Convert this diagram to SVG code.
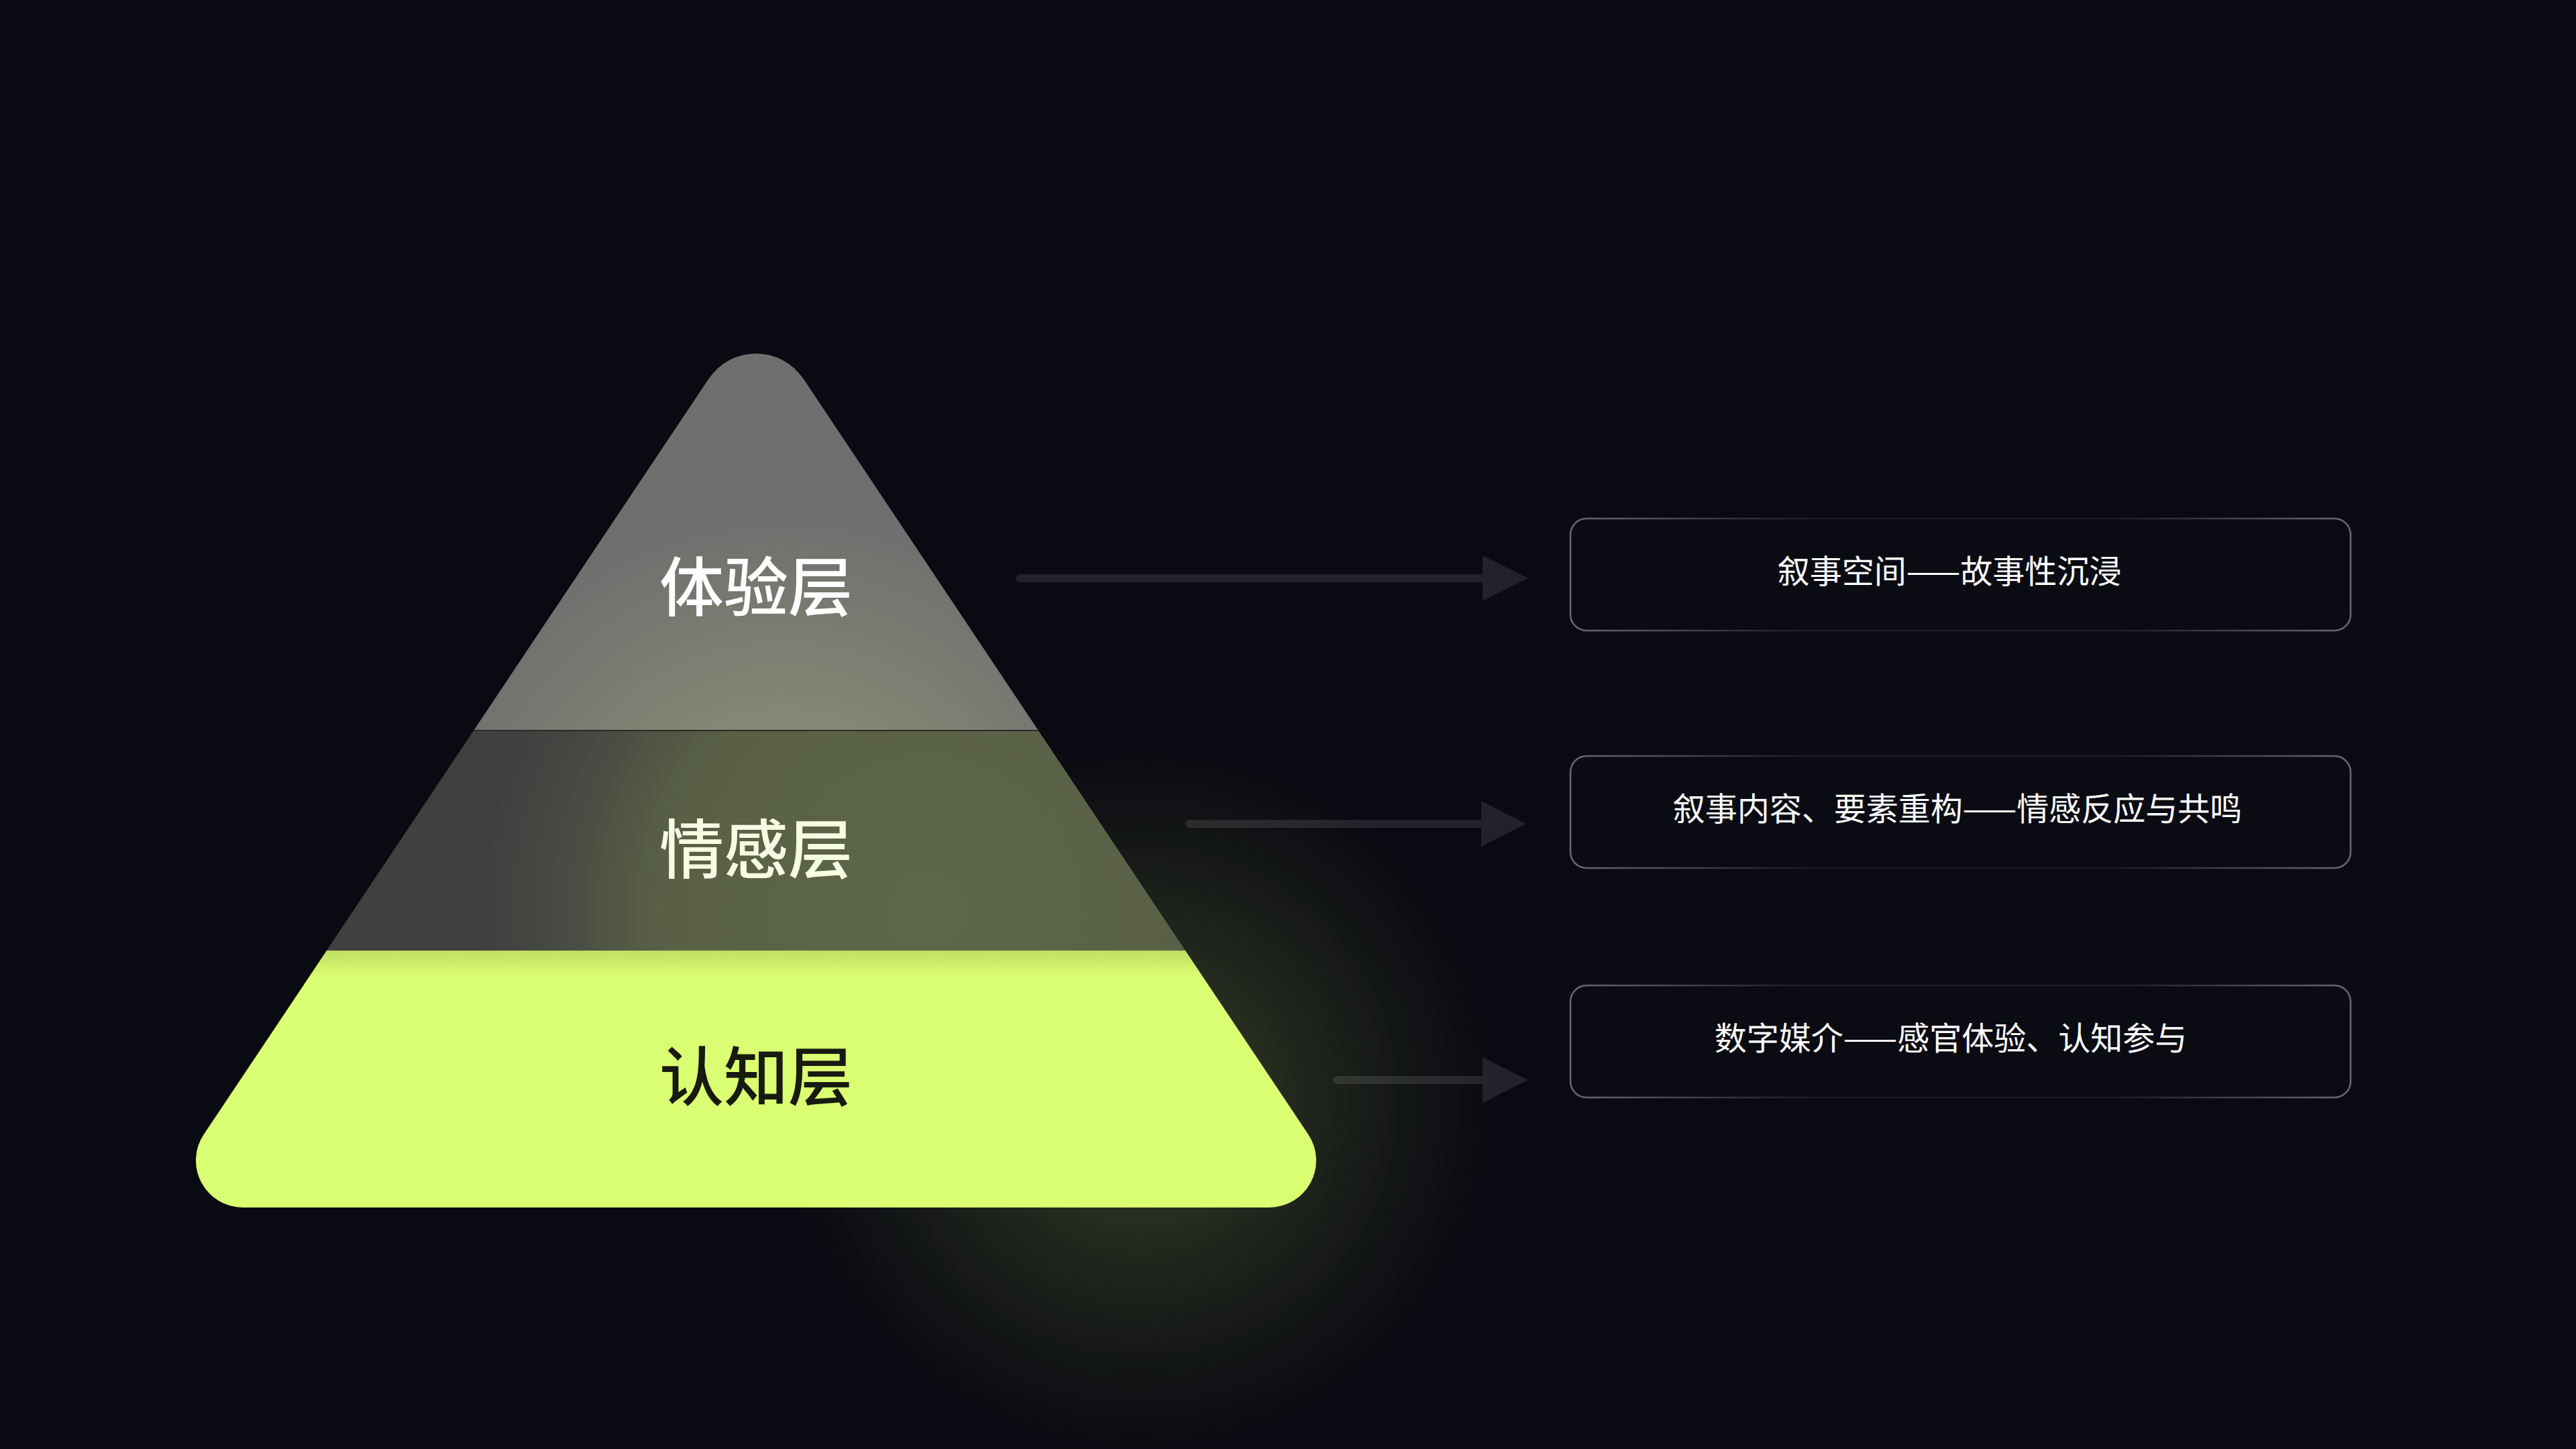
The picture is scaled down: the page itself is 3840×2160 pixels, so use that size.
<svg xmlns="http://www.w3.org/2000/svg" width="3840" height="2160" viewBox="0 0 3840 2160">
  <defs>
    <style>
      .lbl { font-family: "Noto Sans CJK SC", "Noto Sans", sans-serif; font-weight: 500; font-size: 96px; text-anchor: middle; }
      .boxtxt { font-family: "Noto Sans CJK SC", "Noto Sans", sans-serif; font-weight: 400; font-size: 48px; fill: #ffffff; text-anchor: middle; }
      .box { fill: #0b0c13; stroke: url(#boxStroke); stroke-width: 2.5; }
      .arrow { fill: #ffffff; fill-opacity: 0.1; }
    </style>
    <clipPath id="pyr">
      <path d="M 1056.5,564.6 A 85 85 0 0 1 1197.5,564.6 L 1950.2,1691.1 A 70 70 0 0 1 1892,1800 L 362,1800 A 70 70 0 0 1 303.8,1691.1 Z"/>
    </clipPath>
    <radialGradient id="glow" gradientUnits="userSpaceOnUse" cx="1700" cy="1640" r="540">
      <stop offset="0" stop-color="#dbff72" stop-opacity="0.22"/>
      <stop offset="0.45" stop-color="#dbff72" stop-opacity="0.11"/>
      <stop offset="0.78" stop-color="#dbff72" stop-opacity="0.035"/>
      <stop offset="1" stop-color="#dbff72" stop-opacity="0"/>
    </radialGradient>
    <radialGradient id="topFill" gradientUnits="userSpaceOnUse" cx="1170" cy="1320" r="560">
      <stop offset="0" stop-color="#8b9177"/>
      <stop offset="0.43" stop-color="#848874"/>
      <stop offset="1" stop-color="#6f6f6f"/>
    </radialGradient>
    <radialGradient id="midFill" gradientUnits="userSpaceOnUse" cx="1380" cy="1360" r="660">
      <stop offset="0" stop-color="#5f6749"/>
      <stop offset="0.6" stop-color="#596046"/>
      <stop offset="0.85" stop-color="#474943"/>
      <stop offset="1" stop-color="#404040"/>
    </radialGradient>
    <linearGradient id="limeShade" x1="0" y1="0" x2="0" y2="1">
      <stop offset="0" stop-color="#000000" stop-opacity="0.13"/>
      <stop offset="1" stop-color="#000000" stop-opacity="0"/>
    </linearGradient>
    <linearGradient id="boxStroke" x1="0" y1="0" x2="1" y2="0">
      <stop offset="0" stop-color="#6a6a70"/>
      <stop offset="0.3" stop-color="#1c1d24"/>
      <stop offset="0.7" stop-color="#1c1d24"/>
      <stop offset="1" stop-color="#6a6a70"/>
    </linearGradient>
  </defs>

  <rect x="0" y="0" width="3840" height="2160" fill="#0a0b12"/>
  <rect x="1000" y="1000" width="1400" height="1200" fill="url(#glow)"/>

  <g id="node-experience">
    <rect x="200" y="400" width="1900" height="689" fill="url(#topFill)" clip-path="url(#pyr)"/>
    <text class="lbl" x="1127" y="910" fill="#ffffff">体验层</text>
  </g>

  <g id="node-emotion">
    <rect x="200" y="1089" width="1900" height="328" fill="url(#midFill)" clip-path="url(#pyr)"/>
    <rect x="200" y="1088" width="1900" height="2" fill="#2a2c26" clip-path="url(#pyr)"/>
    <text class="lbl" x="1127" y="1301" fill="#f7fde2">情感层</text>
  </g>

  <g id="node-cognition">
    <rect x="200" y="1417" width="1900" height="400" fill="#dbff72" clip-path="url(#pyr)"/>
    <rect x="200" y="1417" width="1900" height="40" fill="url(#limeShade)" clip-path="url(#pyr)"/>
    <text class="lbl" x="1127" y="1640" fill="#181a10">认知层</text>
  </g>

  <g id="connectors">
    <path class="arrow" d="M 1520,856 L 2210,856 L 2210,828 L 2278,862 L 2210,896 L 2210,868 L 1520,868 A 6 6 0 0 1 1520,856 Z"/>
    <path class="arrow" d="M 1773,1222 L 2208,1222 L 2208,1194 L 2275,1228 L 2208,1262 L 2208,1234 L 1773,1234 A 6 6 0 0 1 1773,1222 Z"/>
    <path class="arrow" d="M 1993,1604 L 2210,1604 L 2210,1576 L 2278,1610 L 2210,1644 L 2210,1616 L 1993,1616 A 6 6 0 0 1 1993,1604 Z"/>
  </g>

  <g id="box-1">
    <rect class="box" x="2341" y="773" width="1163" height="167" rx="24" ry="24"/>
    <text class="boxtxt" x="2906" y="869">叙事空间——故事性沉浸</text>
  </g>
  <g id="box-2">
    <rect class="box" x="2341" y="1127" width="1163" height="167" rx="24" ry="24"/>
    <text class="boxtxt" x="2918" y="1223">叙事内容、要素重构——情感反应与共鸣</text>
  </g>
  <g id="box-3">
    <rect class="box" x="2341" y="1469" width="1163" height="167" rx="24" ry="24"/>
    <text class="boxtxt" x="2908" y="1565">数字媒介——感官体验、认知参与</text>
  </g>
</svg>
